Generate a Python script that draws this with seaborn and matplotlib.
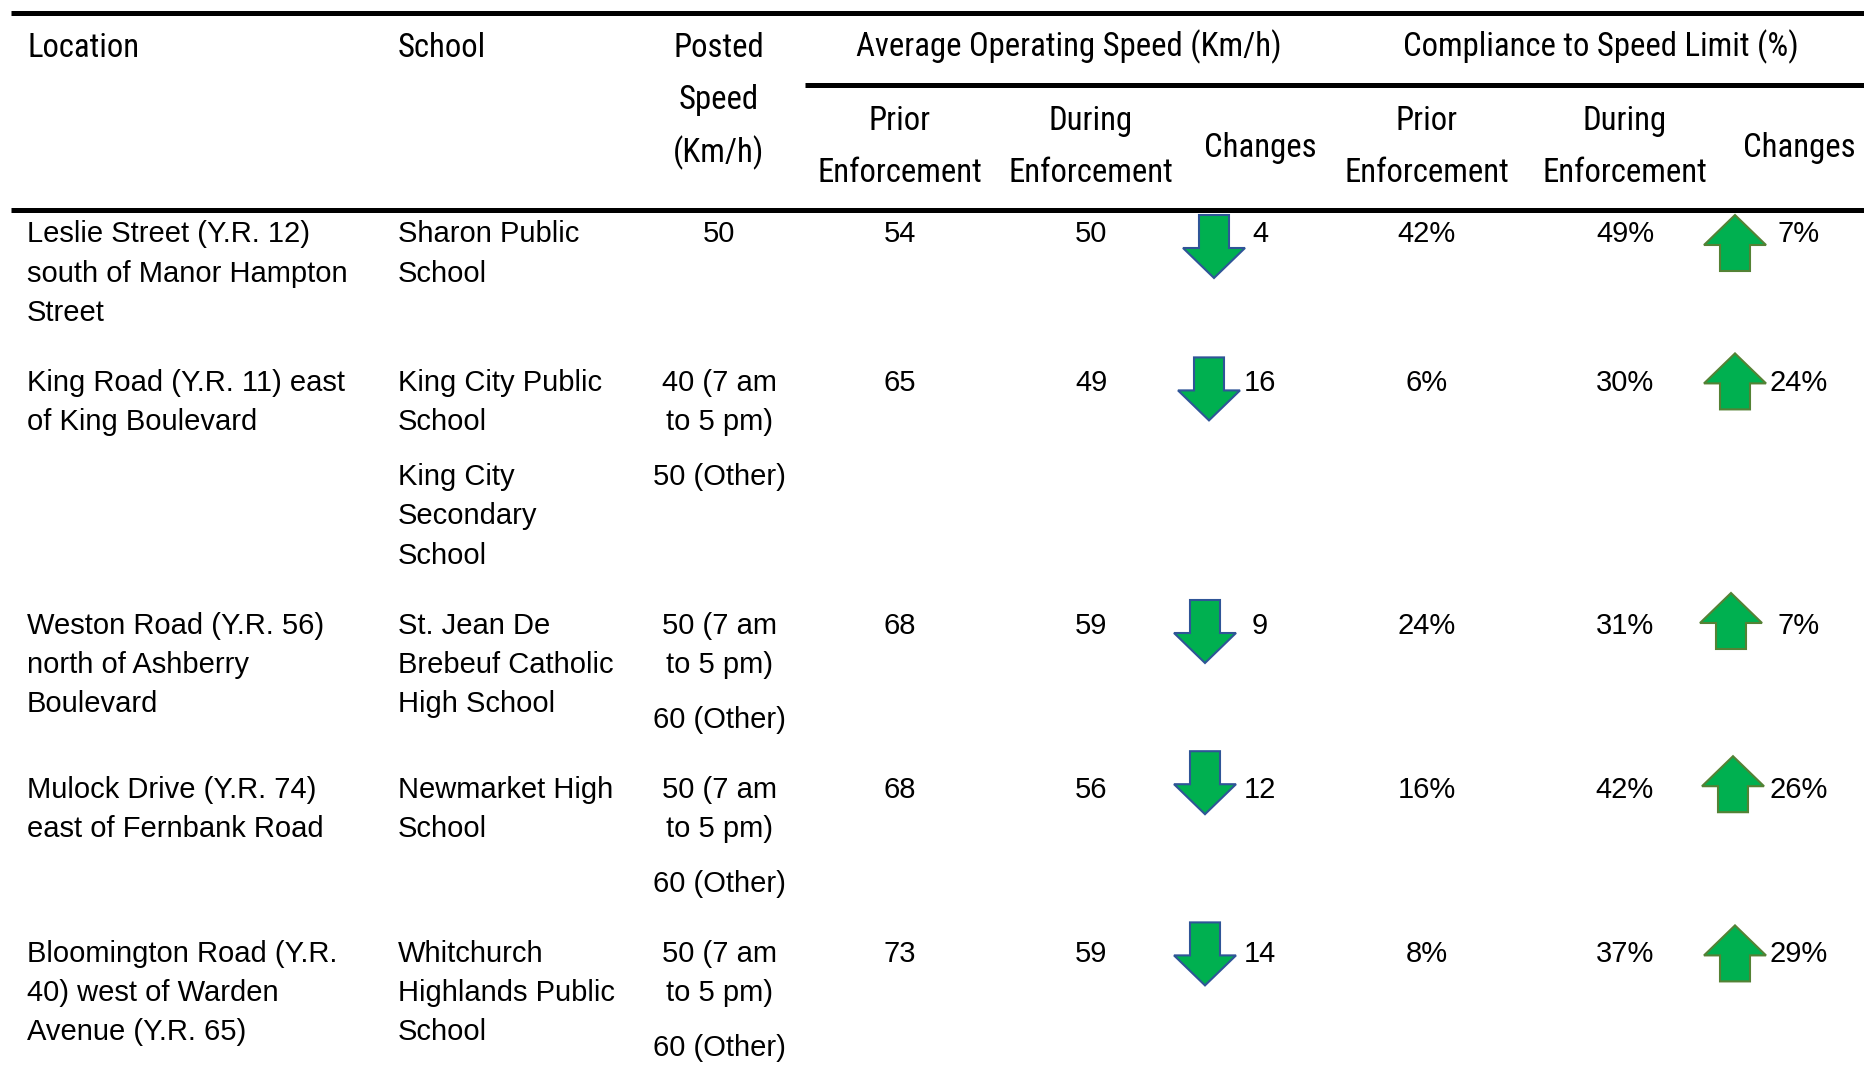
import numpy as np
import pandas as pd
import matplotlib.pyplot as plt
import matplotlib.font_manager as fm
from matplotlib.patches import Polygon
import seaborn as sns

sns.set_style("white")
plt.rcParams['font.family'] = ['Liberation Sans', 'DejaVu Sans']

#%% table data
locations = ["Leslie Street (Y.R. 12)\nsouth of Manor Hampton\nStreet",
             "King Road (Y.R. 11) east\nof King Boulevard",
             "Weston Road (Y.R. 56)\nnorth of Ashberry\nBoulevard",
             "Mulock Drive (Y.R. 74)\neast of Fernbank Road",
             "Bloomington Road (Y.R.\n40) west of Warden\nAvenue (Y.R. 65)"]
schools = [["Sharon Public\nSchool"],
           ["King City Public\nSchool", "King City\nSecondary\nSchool"],
           ["St. Jean De\nBrebeuf Catholic\nHigh School"],
           ["Newmarket High\nSchool"],
           ["Whitchurch\nHighlands Public\nSchool"]]
posted = [["50"],
          ["40 (7 am\nto 5 pm)", "50 (Other)"],
          ["50 (7 am\nto 5 pm)", "60 (Other)"],
          ["50 (7 am\nto 5 pm)", "60 (Other)"],
          ["50 (7 am\nto 5 pm)", "60 (Other)"]]
speed_prior = [54, 65, 68, 68, 73]
speed_during = [50, 49, 59, 56, 59]
compl_prior = [42, 6, 24, 16, 8]
compl_during = [49, 30, 31, 42, 37]

df = pd.DataFrame({'location': locations, 'school': schools, 'posted': posted,
                   'speed_prior': speed_prior, 'speed_during': speed_during,
                   'compl_prior': compl_prior, 'compl_during': compl_during})
df['speed_change'] = df['speed_prior'] - df['speed_during']
df['compl_change'] = df['compl_during'] - df['compl_prior']

#%% layout (pixels)
W, H = 1864, 1079
LINE = 39.2        # line step
BLOCK_GAP = 55     # step between paragraphs in one cell
ROW_GAP = 70       # step from last line of a row to the next row
BODY_FS = 21
x_loc, x_school = 27, 398
x_cols = {'posted': 719, 'speed_prior': 900, 'speed_during': 1091, 'speed_change': 1260,
          'compl_prior': 1427, 'compl_during': 1625, 'compl_change': 1799}
down_x = [1214, 1209, 1205, 1205, 1205]
down_dy = [-17, -23, -23, -36, -29]
up_x = [1735, 1735, 1731, 1733, 1735]
up_dy = [-17, -27, -30, -31, -26]
green = '#00B050'


def pick_header_font():
    """look for a narrow / condensed regular sans face for the header"""
    prefer = ['Liberation Sans Narrow', 'Roboto Condensed', 'Open Sans Condensed',
              'Noto Sans Condensed', 'DejaVu Sans']
    found = []
    for f in fm.fontManager.ttflist:
        narrow = ('Narrow' in f.name or 'Condensed' in f.name
                  or f.stretch in ('condensed', 'semi-condensed', 'extra-condensed'))
        if narrow and f.style == 'normal':
            w = f.weight if isinstance(f.weight, int) else 400
            rank = prefer.index(f.name) if f.name in prefer else len(prefer)
            found.append((rank, abs(w - 400), f.fname))
    if found:
        found.sort()
        return fm.FontProperties(fname=found[0][2])
    return fm.FontProperties(family='DejaVu Sans')


def block_lines(blocks, y0):
    """return list of (text, y_center) for a list of paragraphs"""
    out = []
    y = y0
    for b in blocks:
        for line in b.split('\n'):
            out.append((line, y))
            y += LINE
        y += BLOCK_GAP - LINE
    return out


def body(ax, x, y, s, ha='left'):
    ax.text(x, y + 10.5, s, fontsize=BODY_FS, ha=ha, va='baseline', color='black')


def arrow(ax, xc, ytop, up, w=62, shaft=30, head_len=30):
    if up:
        h = 56
        pts = [(xc, ytop), (xc + w / 2, ytop + head_len), (xc + shaft / 2, ytop + head_len),
               (xc + shaft / 2, ytop + h), (xc - shaft / 2, ytop + h),
               (xc - shaft / 2, ytop + head_len), (xc - w / 2, ytop + head_len)]
        ec = '#548235'
    else:
        h = 63
        pts = [(xc - shaft / 2, ytop), (xc + shaft / 2, ytop), (xc + shaft / 2, ytop + h - head_len),
               (xc + w / 2, ytop + h - head_len), (xc, ytop + h), (xc - w / 2, ytop + h - head_len),
               (xc - shaft / 2, ytop + h - head_len)]
        ec = '#2F5597'
    ax.add_patch(Polygon(pts, closed=True, facecolor=green, edgecolor=ec, lw=1.5, zorder=3))


if __name__ == "__main__":
    fig = plt.figure(figsize=(W / 100, H / 100), dpi=100)
    ax = fig.add_axes([0, 0, 1, 1])
    ax.set_xlim(0, W)
    ax.set_ylim(H, 0)
    ax.axis('off')

    # header font, sized so the group title spans about as wide as the reference
    hfp = pick_header_font()
    renderer = fig.canvas.get_renderer()
    probe = ax.text(0, 0, "Average Operating Speed (Km/h)", fontproperties=hfp, fontsize=20)
    pw = probe.get_window_extent(renderer).width
    probe.remove()
    head_fs = min(20 * 425 / pw, 27)
    cap_half = 0.71 * head_fs * 100 / 72 / 2

    def head(x, y, s, ha='center'):
        ax.text(x, y + cap_half, s, fontproperties=hfp,
                fontsize=head_fs, ha=ha, va='baseline', color='black')

    #%% header
    ax.plot([11, W], [13, 13], color='black', lw=3.6, solid_capstyle='butt')
    ax.plot([805, W], [84.5, 84.5], color='black', lw=3.6, solid_capstyle='butt')
    ax.plot([11, W], [210, 210], color='black', lw=3.6, solid_capstyle='butt')

    head(28, 45, "Location", ha='left')
    head(x_school, 45, "School", ha='left')
    for s, y in zip(["Posted", "Speed", "(Km/h)"], [45, 97.5, 151]):
        head(x_cols['posted'], y, s)
    head(1069, 45, "Average Operating Speed (Km/h)")
    head(1601, 45, "Compliance to Speed Limit (%)")
    for grp in ['speed', 'compl']:
        for k in ['prior', 'during']:
            word = "Prior" if k == 'prior' else "During"
            head(x_cols[grp + '_' + k], 118, word)
            head(x_cols[grp + '_' + k], 170, "Enforcement")
        head(x_cols[grp + '_change'], 145, "Changes")

    #%% body rows
    y0 = 232
    for i, row in df.iterrows():
        cells = [block_lines([row['location']], y0),
                 block_lines(row['school'], y0),
                 block_lines(row['posted'], y0)]
        for s, y in cells[0]:
            body(ax, x_loc, y, s)
        for s, y in cells[1]:
            body(ax, x_school, y, s)
        for s, y in cells[2]:
            body(ax, x_cols['posted'], y, s, ha='center')

        body(ax, x_cols['speed_prior'], y0, str(row['speed_prior']), ha='center')
        body(ax, x_cols['speed_during'], y0, str(row['speed_during']), ha='center')
        body(ax, x_cols['speed_change'], y0, str(row['speed_change']), ha='center')
        body(ax, x_cols['compl_prior'], y0, "{}%".format(row['compl_prior']), ha='center')
        body(ax, x_cols['compl_during'], y0, "{}%".format(row['compl_during']), ha='center')
        body(ax, x_cols['compl_change'], y0, "{}%".format(row['compl_change']), ha='center')

        arrow(ax, down_x[i], y0 + down_dy[i], up=False)
        arrow(ax, up_x[i], y0 + up_dy[i], up=True)

        last = max(y for c in cells for _, y in c)
        y0 = last + ROW_GAP

    fig.savefig("out.png", dpi=100)
